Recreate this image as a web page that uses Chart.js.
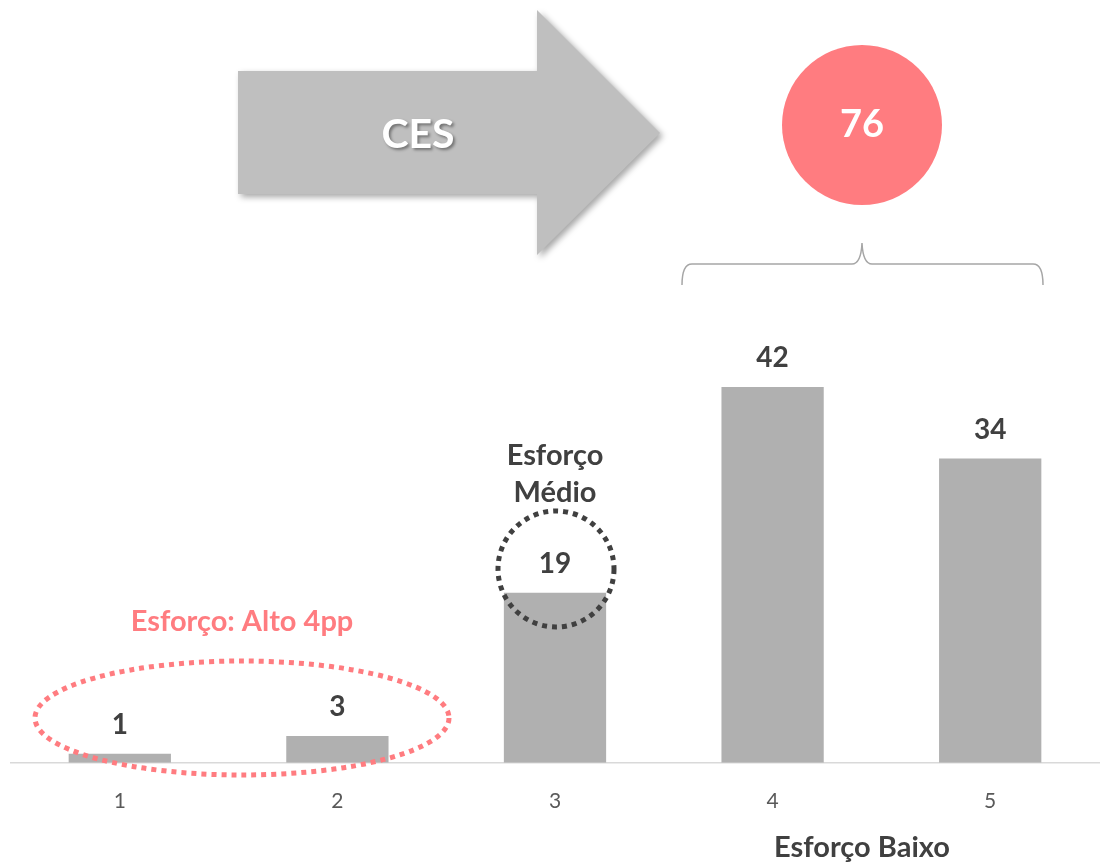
<!DOCTYPE html>
<html>
<head>
<meta charset="utf-8">
<script src="https://cdn.jsdelivr.net/npm/chart.js@4.4.0/dist/chart.umd.min.js"></script>
<style>
  html, body { margin: 0; padding: 0; background: #fff; }
  #wrap { width: 1102px; height: 865px; position: relative; }
</style>
</head>
<body>
<div id="wrap"><canvas id="ces_chart"></canvas></div>
<script>
// distribuição das notas de esforço (%)
var labels = ["1", "2", "3", "4", "5"];
var values = [1, 3, 19, 42, 34];
var cesScore = 76;
var cesTitle = "CES";

var FONT = "Lato, 'Open Sans', sans-serif";
var DARK = "#404040";
var PINK = "#ff7c80";

// rótulos de valor em cima das barras
var valueLabels = {
    id: "valueLabels",
    afterDatasetsDraw: function(chart) {
        var ctx = chart.ctx;
        var meta = chart.getDatasetMeta(0);
        ctx.save();
        ctx.font = "bold 28px " + FONT;
        ctx.fillStyle = DARK;
        ctx.textAlign = "center";
        ctx.textBaseline = "middle";
        meta.data.forEach(function(bar, i) {
            ctx.fillText(values[i], bar.x, bar.y - 29);
        });
        ctx.restore();
    }
};

// seta, círculo, chave e destaques
var decorations = {
    id: "decorations",
    afterDraw: function(chart) {
        var ctx = chart.ctx;
        var x = chart.scales.x;
        ctx.save();

        // seta CES
        ctx.shadowColor = "rgba(0,0,0,0.35)";
        ctx.shadowBlur = 6;
        ctx.shadowOffsetX = 3;
        ctx.shadowOffsetY = 3;
        ctx.fillStyle = "#bfbfbf";
        ctx.beginPath();
        ctx.moveTo(238, 71);
        ctx.lineTo(537, 71);
        ctx.lineTo(537, 10);
        ctx.lineTo(660, 133);
        ctx.lineTo(537, 255);
        ctx.lineTo(537, 194);
        ctx.lineTo(238, 194);
        ctx.closePath();
        ctx.fill();

        ctx.shadowColor = "rgba(0,0,0,0.4)";
        ctx.shadowBlur = 3;
        ctx.shadowOffsetX = 2;
        ctx.shadowOffsetY = 2;
        ctx.fillStyle = "#fff";
        ctx.font = "bold 41px " + FONT;
        ctx.textAlign = "center";
        ctx.textBaseline = "middle";
        ctx.fillText(cesTitle, 418, 135);
        ctx.shadowColor = "transparent";

        // círculo com a nota
        ctx.fillStyle = PINK;
        ctx.beginPath();
        ctx.arc(862, 125, 80, 0, Math.PI * 2);
        ctx.fill();
        ctx.fillStyle = "#fff";
        ctx.font = "bold 38px " + FONT;
        ctx.fillText(cesScore, 862, 125);

        // chave sobre as barras 4 e 5
        ctx.strokeStyle = "#a6a6a6";
        ctx.lineWidth = 1.5;
        ctx.beginPath();
        ctx.moveTo(682, 285);
        ctx.quadraticCurveTo(682, 264, 692, 264);
        ctx.lineTo(852, 264);
        ctx.quadraticCurveTo(861, 264, 862, 243);
        ctx.quadraticCurveTo(863, 264, 872, 264);
        ctx.lineTo(1033, 264);
        ctx.quadraticCurveTo(1043, 264, 1043, 285);
        ctx.stroke();

        // elipse pontilhada do esforço alto
        ctx.strokeStyle = PINK;
        ctx.lineWidth = 5;
        ctx.setLineDash([5, 5]);
        ctx.beginPath();
        ctx.ellipse(242, 718, 207, 57, 0, 0, Math.PI * 2);
        ctx.stroke();

        // círculo pontilhado do esforço médio
        ctx.strokeStyle = DARK;
        ctx.beginPath();
        ctx.arc(556, 569, 58, 0, Math.PI * 2);
        ctx.stroke();
        ctx.setLineDash([]);

        ctx.font = "bold 29px " + FONT;
        ctx.fillStyle = PINK;
        ctx.fillText("Esforço: Alto 4pp", 242, 622);

        ctx.fillStyle = DARK;
        ctx.fillText("Esforço", x.getPixelForValue(2), 456);
        ctx.fillText("Médio", x.getPixelForValue(2), 493);
        ctx.fillText("Esforço Baixo", 862, 848);

        ctx.restore();
    }
};

var ctx = document.getElementById("ces_chart");
new Chart(ctx, {
    type: "bar",
    data: {
        labels: labels,
        datasets: [{
            data: values,
            backgroundColor: "#b0b0b0",
            borderWidth: 0,
            categoryPercentage: 1,
            barPercentage: 0.47
        }]
    },
    options: {
        responsive: true,
        maintainAspectRatio: false,
        animation: false,
        layout: {
            padding: { left: 11, right: 3, top: 2, bottom: 25 }
        },
        plugins: {
            legend: { display: false },
            tooltip: { enabled: false }
        },
        scales: {
            x: {
                grid: { display: false, drawTicks: false },
                border: { color: "#d9d9d9", width: 1.5 },
                ticks: {
                    color: "#595959",
                    padding: 26,
                    font: { family: FONT, size: 21 }
                }
            },
            y: {
                display: false,
                min: 0,
                max: 85
            }
        }
    },
    plugins: [valueLabels, decorations]
});
</script>
</body>
</html>
